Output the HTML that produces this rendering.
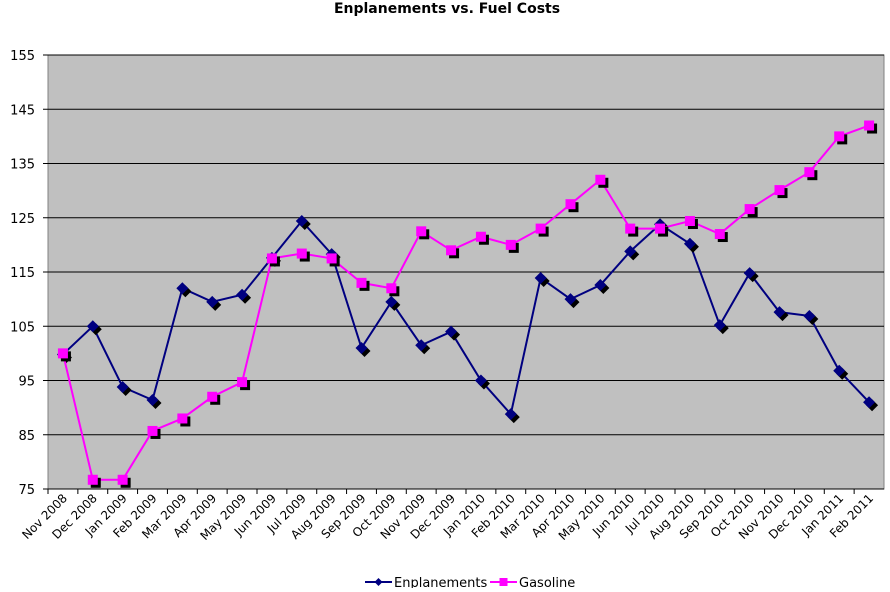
<!DOCTYPE html>
<html><head><meta charset="utf-8"><style>
body{margin:0;background:#fff;font-family:"DejaVu Sans","Liberation Sans",sans-serif}
svg text{font-family:"DejaVu Sans","Liberation Sans",sans-serif}
</style></head><body>
<svg id="chart" width="890" height="588" xmlns="http://www.w3.org/2000/svg">
<text x="447" y="13" text-anchor="middle" font-size="14" font-weight="bold">Enplanements vs. Fuel Costs</text>
<rect x="48" y="55" width="836" height="434" fill="#c0c0c0" stroke="#808080"/>
<g id="grid"></g><g id="xlabels"></g><g id="series"></g>
<g>
<line x1="365" y1="582" x2="392" y2="582" stroke="#000080" stroke-width="2"/>
<path d="M378.5 578 L382.5 582 L378.5 586 L374.5 582Z" fill="#000080"/>
<text x="394" y="587" font-size="13">Enplanements</text>
<line x1="490" y1="582" x2="517" y2="582" stroke="#ff00ff" stroke-width="2"/>
<rect x="499.5" y="578" width="8" height="8" fill="#ff00ff"/>
<text x="519" y="587" font-size="13">Gasoline</text>
</g>
</svg>
<script>
const categories=["Nov 2008","Dec 2008","Jan 2009","Feb 2009","Mar 2009","Apr 2009","May 2009","Jun 2009","Jul 2009","Aug 2009","Sep 2009","Oct 2009","Nov 2009","Dec 2009","Jan 2010","Feb 2010","Mar 2010","Apr 2010","May 2010","Jun 2010","Jul 2010","Aug 2010","Sep 2010","Oct 2010","Nov 2010","Dec 2010","Jan 2011","Feb 2011"];
const enplanements=[99.8,105,93.8,91.4,112,109.5,110.8,117.6,124.4,118.3,101,109.5,101.5,104,95,88.8,113.9,110,112.6,118.8,123.8,120.2,105.2,114.8,107.6,106.9,96.8,91];
const gasoline=[100,76.7,76.7,85.7,88,92,94.7,117.5,118.4,117.5,113,112,122.5,119,121.5,120,123,127.5,132,123,123,124.4,122,126.6,130.1,133.4,140,142];
const yTicks=[75,85,95,105,115,125,135,145,155];
const NS="http://www.w3.org/2000/svg";
const X0=48,W=836,Y0=489,H=434,YMIN=75,YMAX=155;
const step=W/categories.length;
function xs(i){return X0+step*(i+0.5);}
function ys(v){return Y0-(v-YMIN)/(YMAX-YMIN)*H;}
function mk(tag,attrs,parent){const e=document.createElementNS(NS,tag);for(const k in attrs)e.setAttribute(k,attrs[k]);parent.appendChild(e);return e;}
const grid=document.getElementById('grid');
yTicks.forEach(t=>{const y=ys(t);
 const l=mk('line',{x1:X0-5,x2:X0+W,y1:y,y2:y,stroke:'#000','stroke-width':1},grid);
 
 
 const tx=mk('text',{x:X0-13,y:y+5,'text-anchor':'end','font-size':13},grid);tx.textContent=t;
 
 
});
const xl=document.getElementById('xlabels');
categories.forEach((c,i)=>{const x=xs(i);
 mk('line',{x1:X0+step*i,x2:X0+step*i,y1:Y0,y2:Y0+5,stroke:'#000'},xl);
 const tx=mk('text',{x:x+5,y:Y0+10,'text-anchor':'end','font-size':12,transform:`rotate(-45 ${x+5} ${Y0+10})`},xl);tx.textContent=c;
 
 
});
const sg=document.getElementById('series');
function drawSeries(data,color,shape,name){
 const pts=data.map((v,i)=>xs(i)+','+ys(v)).join(' ');
 const pl=mk('polyline',{points:pts,fill:'none',stroke:color,'stroke-width':2},sg);
 
 
 data.forEach((v,i)=>{const x=xs(i),y=ys(v);
  [[3,3,'#000'],[0,0,color]].forEach(([dx,dy,f])=>{
   let m;
   if(shape==='sq') m=mk('rect',{x:x-5+dx,y:y-5+dy,width:10,height:10,fill:f},sg);
   else m=mk('path',{d:`M${x+dx} ${y-6+dy}L${x+6+dx} ${y+dy}L${x+dx} ${y+6+dy}L${x-6+dx} ${y+dy}Z`,fill:f},sg);
   
   
  });
 });
}
drawSeries(enplanements,'#000080','dia','enplanements');
drawSeries(gasoline,'#ff00ff','sq','gasoline');
</script>
</body></html>
